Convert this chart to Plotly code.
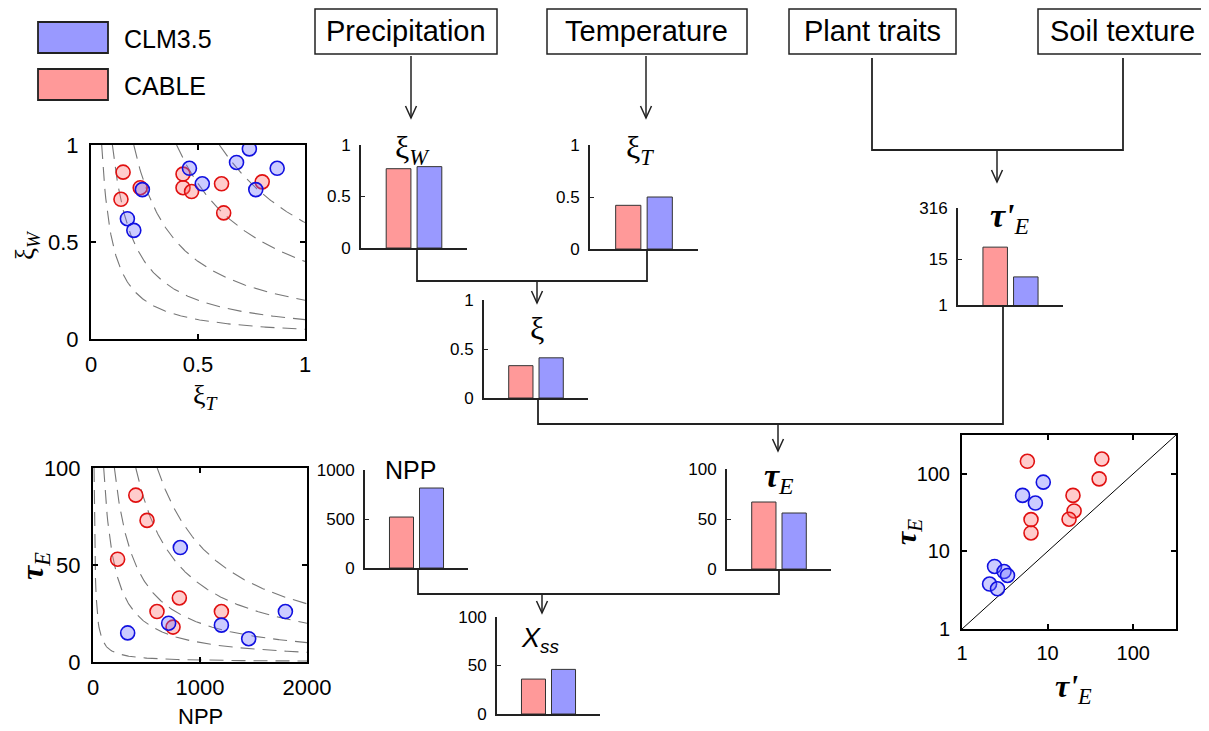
import numpy as np
import plotly.graph_objects as go

# page is 1209x731; the html body has an 8px margin, so the figure is 1201x723
OFF = 8
W, H = 1209 - OFF, 731 - OFF
FONT = "Liberation Sans, Arial, sans-serif"
SERIF = "Liberation Serif, DejaVu Serif, serif"

# ---------------- data ----------------
models = ["CABLE", "CLM3.5"]
bar_fill = ["#FF9999", "#9999FF"]

# scatter 1: xi_T vs xi_W
s1_cable_xiT = [0.15, 0.23, 0.14, 0.43, 0.43, 0.47, 0.61, 0.62, 0.80]
s1_cable_xiW = [0.86, 0.78, 0.72, 0.85, 0.78, 0.76, 0.80, 0.65, 0.81]
s1_clm_xiT = [0.24, 0.17, 0.20, 0.46, 0.52, 0.68, 0.74, 0.77, 0.87]
s1_clm_xiW = [0.77, 0.62, 0.56, 0.88, 0.80, 0.91, 0.98, 0.77, 0.88]
s1_iso = [0.05, 0.1, 0.2, 0.4, 0.6]

# scatter 2: NPP vs tau_E
s2_cable_npp = [400, 505, 230, 807, 598, 748, 1200]
s2_cable_tau = [86, 73, 53, 33, 26, 18, 26]
s2_clm_npp = [816, 324, 707, 1200, 1455, 1798]
s2_clm_tau = [59, 15, 20, 19, 12, 26]
s2_iso = [1000, 10000, 20000, 40000, 60000]

# scatter 3: tau'_E vs tau_E (log-log)
s3_cable_taup = [5.8, 6.4, 6.4, 43, 40, 19.8, 20.4, 17.8]
s3_cable_tau = [145, 25.7, 17.3, 155, 86, 52.7, 33.2, 26]
s3_clm_taup = [8.9, 5.1, 7.2, 2.4, 3.1, 3.4, 2.1, 2.6]
s3_clm_tau = [78, 52.7, 42, 6.4, 5.5, 4.9, 3.8, 3.3]
s3_diag = [1, 316]

# bar values [CABLE, CLM3.5]
xiW_bar = [0.77, 0.79]
xiT_bar = [0.42, 0.50]
xi_bar = [0.33, 0.41]
tauP_bar = [31, 5.3]
npp_bar = [520, 816]
tau_bar = [67, 56]
xss_bar = [36, 46]

# ---------------- helpers (page pixels -> paper fraction) ----------------
def px(x):
    return (x - OFF) / W

def py(y):
    return 1 - (y - OFF) / H

fig = go.Figure()
layout = dict(width=W, height=H,
              margin=dict(l=0, r=0, t=0, b=0, pad=0, autoexpand=False),
              paper_bgcolor="white", plot_bgcolor="rgba(0,0,0,0)",
              showlegend=False, font=dict(family=FONT, color="black"))

def axname(i, kind):
    return f"{kind}axis" + ("" if i == 1 else str(i))

def ref(i, kind):
    return kind + ("" if i == 1 else str(i))

def scatter_axes(i, x0, x1, y0, y1, xr, yr, xt, yt, fs=22, xtype="linear"):
    common = dict(showline=True, linewidth=2, linecolor="black", mirror="ticks",
                  ticks="inside", ticklen=5, tickwidth=1.5, tickcolor="black",
                  showgrid=False, zeroline=False, automargin=False,
                  tickfont=dict(size=fs, family=FONT), type=xtype)
    layout[axname(i, "x")] = dict(common, domain=[px(x0), px(x1)], range=xr,
                                  tickvals=xt, anchor=ref(i, "y"),
                                  ticklabelstandoff=5)
    layout[axname(i, "y")] = dict(common, domain=[py(y1), py(y0)], range=yr,
                                  tickvals=yt, anchor=ref(i, "x"),
                                  ticklabelstandoff=6)

def bar_axes(i, xl, xr_px, ybot, ytop, yr, yt, ytext=None, ytype="linear"):
    layout[axname(i, "x")] = dict(domain=[px(xl), px(xr_px)], range=[-0.215, 3.215],
                                  showline=True, linewidth=1.8, linecolor="#222",
                                  showticklabels=False, ticks="", showgrid=False,
                                  zeroline=False, automargin=False, anchor=ref(i, "y"))
    yd = dict(domain=[py(ybot), py(ytop)], range=yr, type=ytype,
              showline=True, linewidth=1.8, linecolor="#222",
              ticks="inside", ticklen=4, tickcolor="#222", tickvals=yt,
              showgrid=False, zeroline=False, automargin=False, anchor=ref(i, "x"),
              tickfont=dict(size=17, family=FONT), ticklabelstandoff=5)
    if ytext is not None:
        yd["ticktext"] = ytext
    layout[axname(i, "y")] = yd

def add_pts(i, xs, ys, edge, fill):
    fig.add_trace(go.Scatter(x=xs, y=ys, mode="markers",
                             marker=dict(size=14, color=fill,
                                         line=dict(color=edge, width=1.6)),
                             xaxis=ref(i, "x"), yaxis=ref(i, "y")))

def add_bars(i, vals):
    fig.add_trace(go.Bar(x=[1, 2], y=vals, width=0.8,
                         marker=dict(color=bar_fill, line=dict(color="#333", width=1)),
                         xaxis=ref(i, "x"), yaxis=ref(i, "y")))

RED_E, RED_F = "#E01010", "rgba(255,110,110,0.35)"
BLU_E, BLU_F = "#1010E0", "rgba(110,110,255,0.35)"
DASH = dict(color="#777", width=1.1, dash="14px,8px")

# ---------------- scatter 1 ----------------
scatter_axes(1, 91, 305, 145, 339, [0, 1], [0, 1], [0, 0.5, 1], [0, 0.5, 1])
for c in s1_iso:
    xx = np.linspace(c, 1, 200)
    fig.add_trace(go.Scatter(x=xx, y=c / xx, mode="lines", line=DASH,
                             xaxis="x", yaxis="y"))
add_pts(1, s1_cable_xiT, s1_cable_xiW, RED_E, RED_F)
add_pts(1, s1_clm_xiT, s1_clm_xiW, BLU_E, BLU_F)

# ---------------- scatter 2 ----------------
scatter_axes(2, 93, 307, 468, 662, [0, 2000], [0, 100], [0, 1000, 2000], [0, 50, 100])
for c in s2_iso:
    xx = np.linspace(c / 100, 2000, 300)
    fig.add_trace(go.Scatter(x=xx, y=c / xx, mode="lines", line=DASH,
                             xaxis="x2", yaxis="y2"))
add_pts(2, s2_cable_npp, s2_cable_tau, RED_E, RED_F)
add_pts(2, s2_clm_npp, s2_clm_tau, BLU_E, BLU_F)

# ---------------- scatter 3 ----------------
scatter_axes(3, 962, 1176, 435, 629, [0, 2.5], [0, 2.5], [1, 10, 100], [1, 10, 100],
             fs=20, xtype="log")
fig.add_trace(go.Scatter(x=s3_diag, y=s3_diag, mode="lines",
                         line=dict(color="black", width=1), xaxis="x3", yaxis="y3"))
add_pts(3, s3_cable_taup, s3_cable_tau, RED_E, RED_F)
add_pts(3, s3_clm_taup, s3_clm_tau, BLU_E, BLU_F)

# ---------------- bar charts ----------------
bar_axes(4, 361, 467, 248, 145, [0, 1], [0, 0.5, 1])
add_bars(4, xiW_bar)
bar_axes(5, 590, 698, 249, 145, [0, 1], [0, 0.5, 1])
add_bars(5, xiT_bar)
bar_axes(6, 484, 588, 398, 300, [0, 1], [0, 0.5, 1])
add_bars(6, xi_bar)
bar_axes(7, 958, 1063, 305, 208, [0, 2.5], [1, 15, 316], ["1", "15", "316"], ytype="log")
add_bars(7, tauP_bar)
bar_axes(8, 365, 468, 568, 470, [0, 1000], [0, 500, 1000])
add_bars(8, npp_bar)
bar_axes(9, 727, 831, 569, 469, [0, 100], [0, 50, 100])
add_bars(9, tau_bar)
bar_axes(10, 497, 600, 714, 617, [0, 100], [0, 50, 100])
add_bars(10, xss_bar)

# ---------------- diagram shapes ----------------
shapes = []
LC = "#222"

def rect(x0, y0, x1, y1, fill="white", lw=1.5):
    shapes.append(dict(type="rect", xref="paper", yref="paper",
                       x0=px(x0), x1=px(x1), y0=py(y1), y1=py(y0),
                       line=dict(color=LC, width=lw), fillcolor=fill, layer="below"))

def poly(pts, lw=1.8):
    d = "M " + " L ".join(f"{px(x)},{py(y)}" for x, y in pts)
    shapes.append(dict(type="path", xref="paper", yref="paper", path=d,
                       line=dict(color=LC, width=lw)))

def arrow(x, y0, y1):
    poly([(x, y0), (x, y1)], lw=1.5)
    poly([(x - 5.5, y1 - 12), (x, y1), (x + 5.5, y1 - 12)], lw=1.5)

# top boxes (tops kept just inside the figure)
boxes = [("Precipitation", 315, 9, 497, 54), ("Temperature", 547, 9, 747, 54),
         ("Plant traits", 789, 9, 956, 54), ("Soil texture", 1038, 9, 1207, 54)]
for _, x0, y0, x1, y1 in boxes:
    rect(x0, y0, x1, y1)

# legend swatches
rect(38, 22, 108, 53, fill="#9999FF", lw=1.8)
rect(38, 69, 108, 100, fill="#FF9999", lw=1.8)

arrow(411, 56, 118)
arrow(646, 56, 118)
poly([(872, 58), (872, 150), (1123, 150), (1123, 58)])
arrow(997, 150, 182)
poly([(417, 248), (417, 281), (647, 281), (647, 249)])
arrow(537, 281, 303)
poly([(538, 398), (538, 424), (1003, 424), (1003, 305)])
arrow(778, 424, 451)
poly([(418, 568), (418, 594), (779, 594), (779, 569)])
arrow(542, 594, 613)

layout["shapes"] = shapes

# ---------------- text ----------------
ann = []

def text(x, y, s, size, angle=0, xanchor="center", family=FONT):
    ann.append(dict(x=px(x), y=py(y), xref="paper", yref="paper", text=s,
                    showarrow=False, xanchor=xanchor, yanchor="middle",
                    textangle=angle, font=dict(size=size, family=family, color="black")))

for label, x0, y0, x1, y1 in boxes:
    text((x0 + x1) / 2, 31, label, 29)

text(122, 39, "CLM3.5", 25, xanchor="left")
text(122, 86, "CABLE", 25, xanchor="left")

text(412, 150, "ξ<sub><i>W</i></sub>", 32, family=SERIF)
text(640, 150, "ξ<sub><i>T</i></sub>", 32, family=SERIF)
text(537, 328, "ξ", 32, family=SERIF)
text(1010, 218, "<b><i>τ'</i></b><sub><i>E</i></sub>", 34, family=SERIF)
text(410, 470, "NPP", 25)
text(779, 478, "<b><i>τ</i></b><sub><i>E</i></sub>", 34, family=SERIF)
text(540, 640, "<i>X</i><sub><i>ss</i></sub>", 27)

text(205, 396, "ξ<sub><i>T</i></sub>", 28, family=SERIF)
text(27, 245, "ξ<sub><i>W</i></sub>", 27, angle=-90, family=SERIF)
text(200, 716, "NPP", 22)
text(34, 566, "<b><i>τ</i></b><sub><i>E</i></sub>", 32, angle=-90, family=SERIF)
text(1073, 688, "<b><i>τ'</i></b><sub><i>E</i></sub>", 32, family=SERIF)
text(908, 532, "<b><i>τ</i></b><sub><i>E</i></sub>", 30, angle=-90, family=SERIF)

layout["annotations"] = ann
fig.update_layout(**layout)
fig.write_html("out.html")
